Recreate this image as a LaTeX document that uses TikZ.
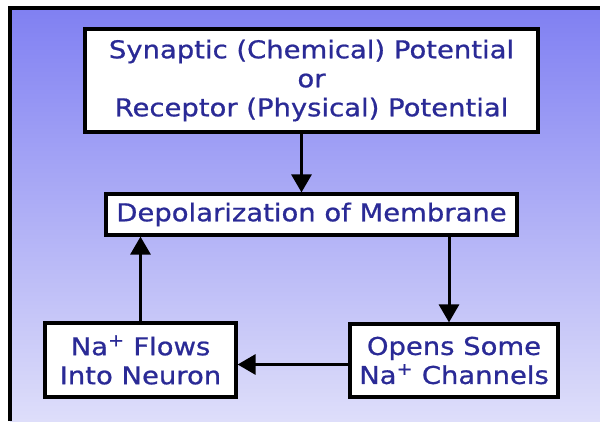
\documentclass[tikz,border=0pt]{standalone}
\usepackage{fontspec}
\setmainfont{DejaVu Sans}[FakeStretch=1.12, FakeBold=0.8]
\usetikzlibrary{arrows.meta}

\definecolor{txtblue}{RGB}{42,42,150}
\definecolor{bgtop}{RGB}{128,128,242}
\definecolor{bgbot}{RGB}{222,222,250}

\tikzset{
  stepbox/.style={draw=black, line width=3.2pt, fill=white, text=txtblue,
    inner sep=0pt, align=center, font=\fontsize{24.5}{29}\selectfont},
  arr/.style={line width=3pt, -{Triangle[length=18pt, width=20pt]}}
}

\begin{document}
\begin{tikzpicture}[x=1pt, y=-1pt]
\useasboundingbox (0,0) rectangle (600,421);

% background and frame
\shade[top color=bgtop, bottom color=bgbot] (10,8) rectangle (600,421);
\draw[line width=3.2pt] (10,421) -- (10,8) -- (600,8);

\node[stepbox, minimum width=453pt, minimum height=103pt] (syn) at (311.5,80.5)
  {Synaptic (Chemical) Potential\\or\\Receptor (Physical) Potential};
\node[stepbox, minimum width=411pt, minimum height=41pt] (depol) at (311.5,214.5)
  {Depolarization of Membrane};
\node[stepbox, minimum width=208pt, minimum height=73pt] (opens) at (454,360.5)
  {Opens Some\\Na\textsuperscript{+} Channels};
\node[stepbox, minimum width=191pt, minimum height=74pt] (flows) at (140.5,360)
  {Na\textsuperscript{+} Flows\\Into Neuron};

\draw[arr] ([xshift=-10pt]syn.south) -- ([xshift=-10pt]syn.south |- depol.north);
\draw[arr] ([xshift=-5pt]opens.north |- depol.south) -- ([xshift=-5pt]opens.north);
\draw[arr] ([yshift=-4pt]opens.west) -- ([yshift=-4pt]opens.west -| flows.east);
\draw[arr] (flows.north) -- (flows.north |- depol.south);
\end{tikzpicture}
\end{document}
